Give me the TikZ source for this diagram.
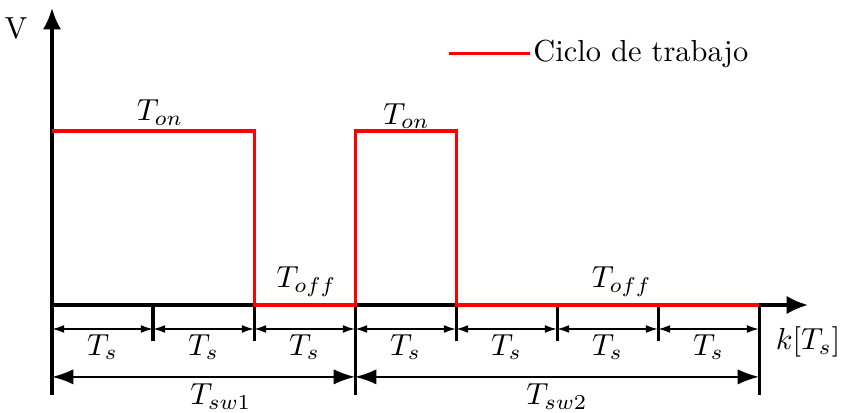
\documentclass[tikz,border=0pt]{standalone}
\usetikzlibrary{arrows.meta}
\definecolor{dutyred}{RGB}{255,0,0}

\begin{document}
\begin{tikzpicture}[
  x=1.1666cm, y=1cm,
  >=Latex,
  axisline/.style={line width=1pt, -{Latex[length=7pt,width=6pt]}},
  tickline/.style={line width=1pt},
  signal/.style={line width=1pt, draw=dutyred},
  dimsmall/.style={line width=0.55pt, {Latex[length=4pt,width=2.6pt]}-{Latex[length=4pt,width=2.6pt]}},
  dimbig/.style={line width=0.65pt, {Latex[length=7pt,width=5pt]}-{Latex[length=7pt,width=5pt]}},
  lbl/.style={inner sep=1pt}
]
\useasboundingbox (-0.515,-1.236) rectangle (7.95,3.523);

% time grid
\foreach \i in {0,...,7}
  \coordinate (k\i) at (\i,0);

% axes
\draw[axisline] (k0) -- (0,3.43) coordinate (ytop);
\draw[axisline] (k0) -- (7.485,0) coordinate (xend);
\node[lbl] (vlab) at (-0.356,3.2) {V};
\node[lbl] (klab) at (7.485,-0.427) {$k[T_s]$};

% ticks
\foreach \i in {1,2,4,5,6}
  \draw[tickline] (k\i) -- ++(0,-0.416);
\foreach \i in {0,3,7}
  \draw[tickline] (k\i) -- ++(0,-1.04);

% sample periods
\foreach \i [evaluate=\i as \j using int(\i+1)] in {0,...,6}
  \draw[dimsmall] ([yshift=-0.277cm]k\i) -- node[lbl, below=0.5pt] (ts\i) {$T_s$} ([yshift=-0.277cm]k\j);

% switching periods
\draw[dimbig] ([yshift=-0.83cm]k0) -- node[lbl, below=1pt, xshift=0.2cm] (sw1) {$T_{sw1}$} ([yshift=-0.83cm]k3);
\draw[dimbig] ([yshift=-0.83cm]k3) -- node[lbl, below=1pt] (sw2) {$T_{sw2}$} ([yshift=-0.83cm]k7);

% duty cycle
\draw[signal] (0,2.01) -- (2,2.01) -- (k2) -- (k3) -- (3,2.01) -- (4,2.01) -- (k4) -- (k7);
\node[lbl] (on1) at (1.07,2.22) {$T_{on}$};
\node[lbl] (on2) at (3.51,2.18) {$T_{on}$};
\node[lbl] (off1) at (2.52,0.27) {$T_{off}$};
\node[lbl] (off2) at (5.64,0.27) {$T_{off}$};

% legend
\coordinate (legA) at (3.93,2.90);
\coordinate (legB) at (4.73,2.90);
\draw[signal] (legA) -- (legB);
\node[lbl, anchor=west] (legtext) at (legB) {Ciclo de trabajo};

\end{tikzpicture}
\end{document}
